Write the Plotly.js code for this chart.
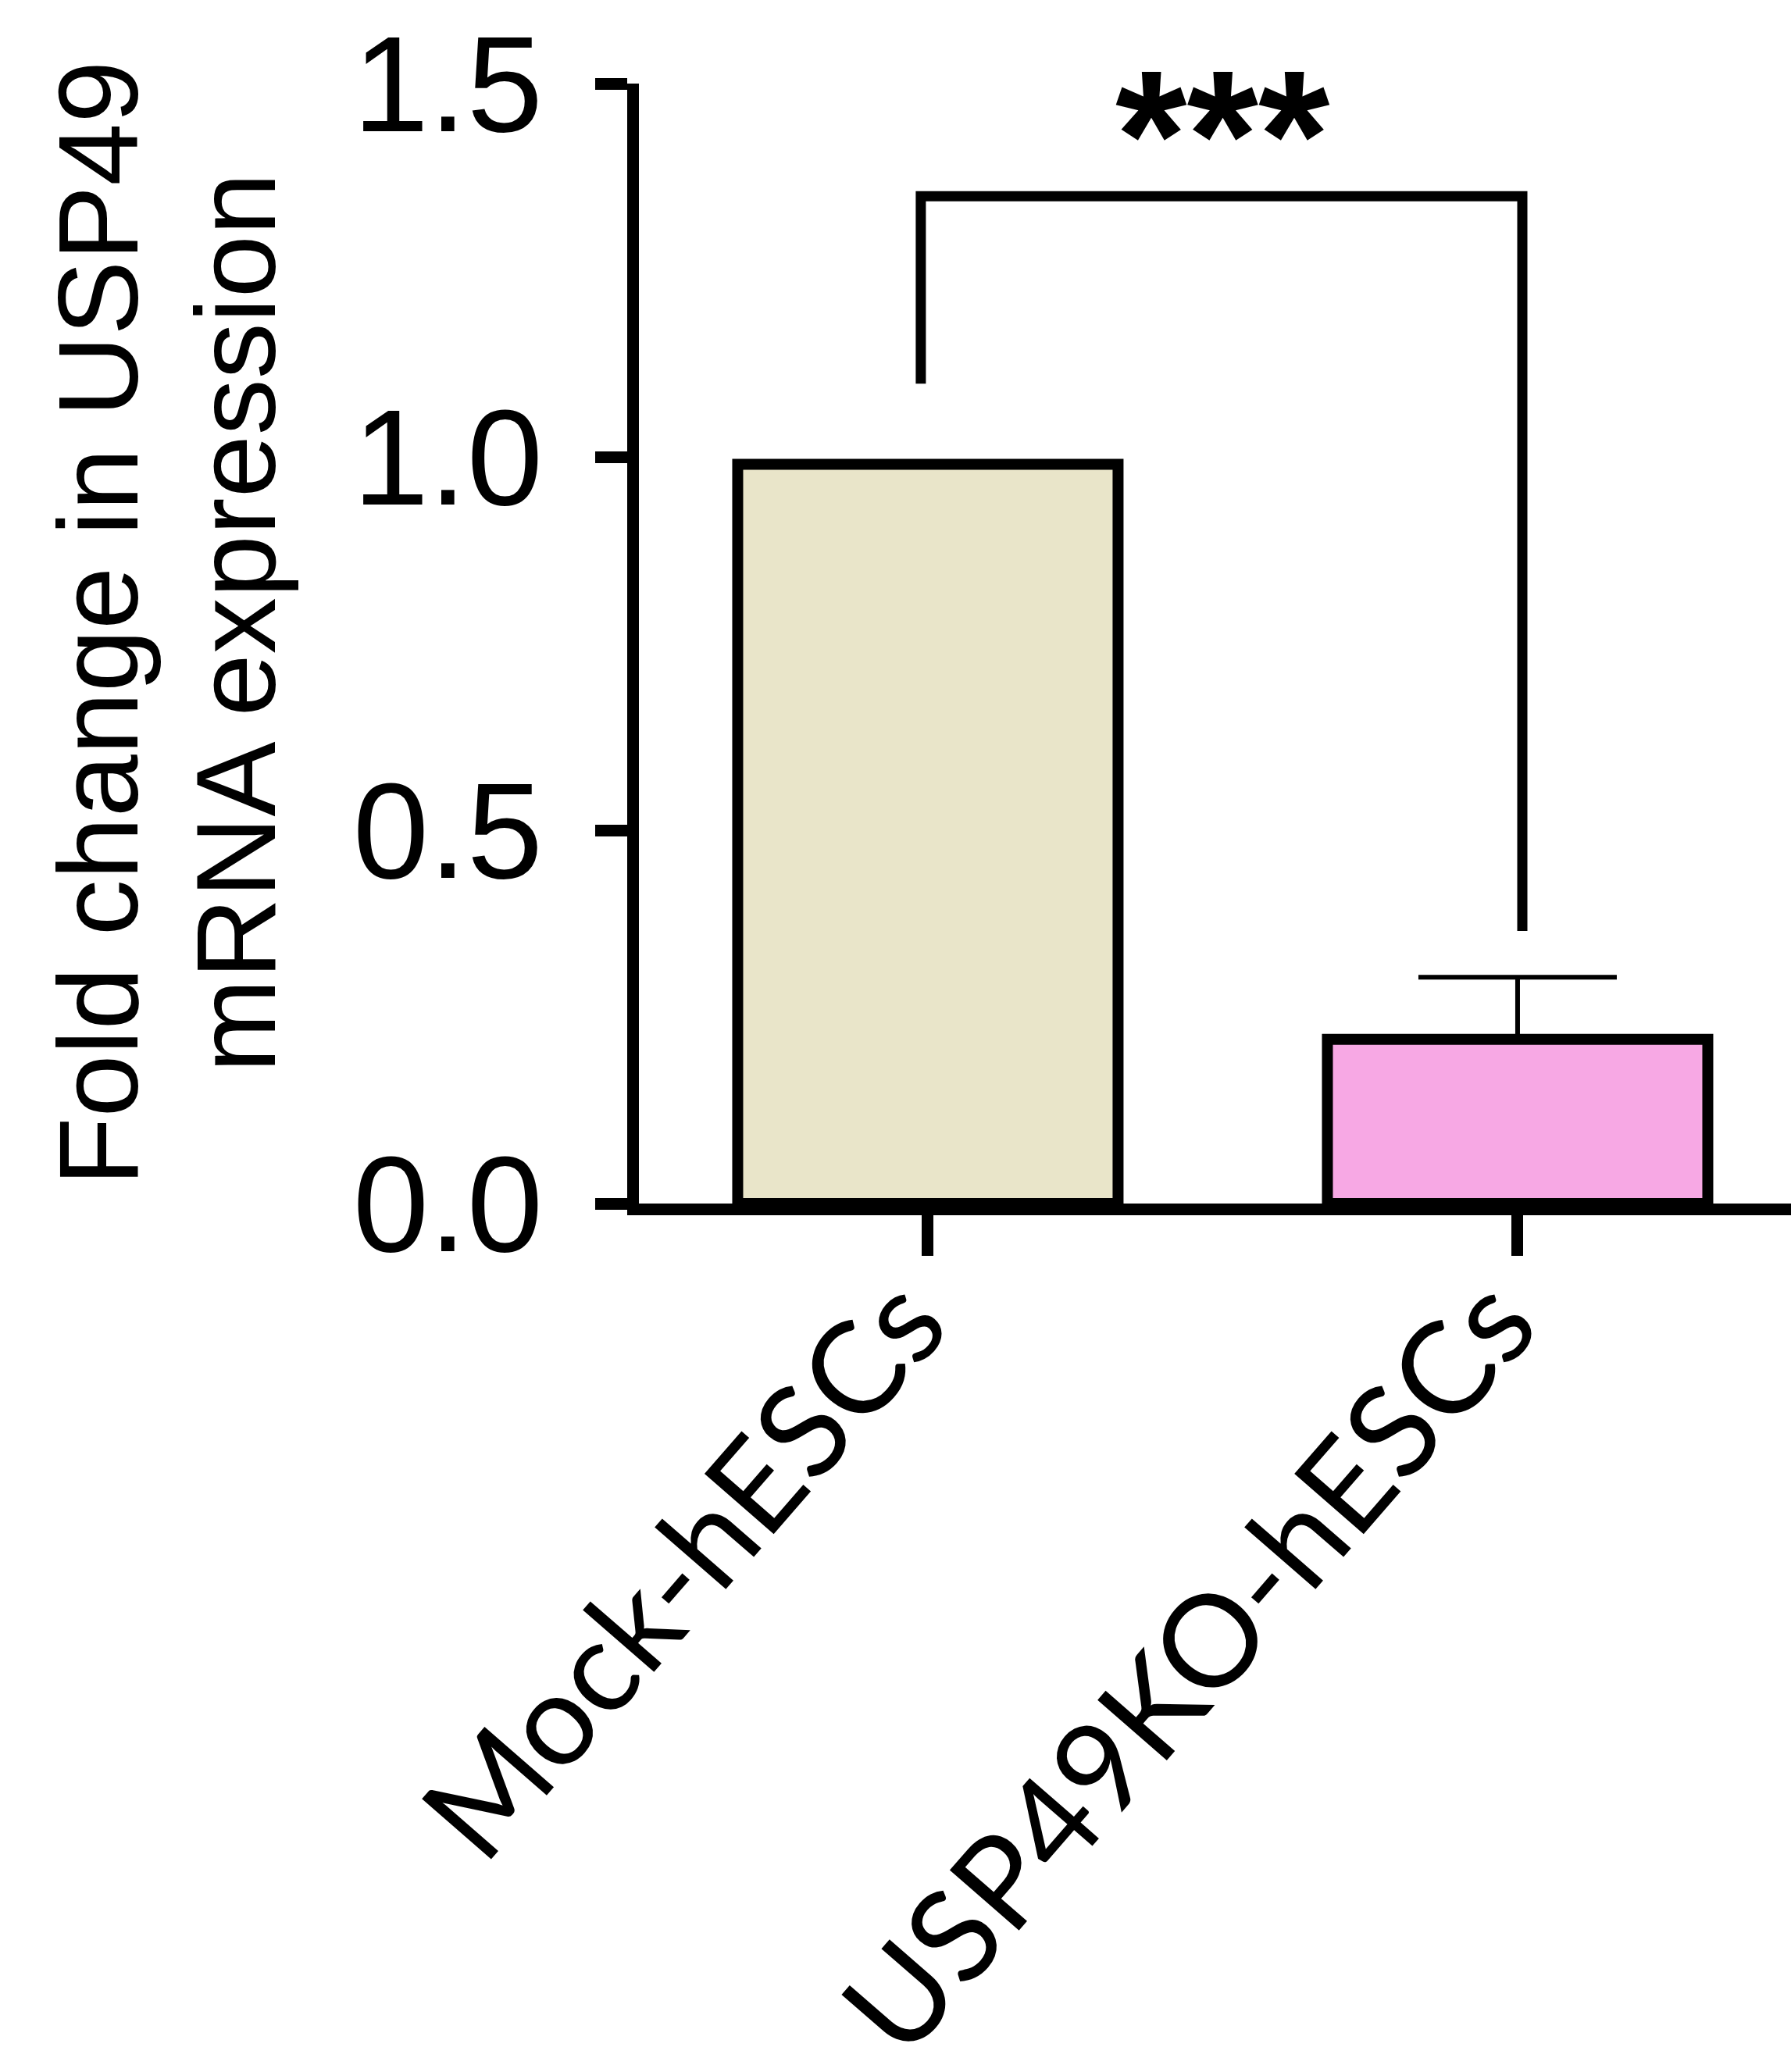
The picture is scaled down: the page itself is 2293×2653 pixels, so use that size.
<!DOCTYPE html>
<html>
<head>
<meta charset="utf-8">
<script src="https://cdn.plot.ly/plotly-3.0.1.min.js"></script>
<style>html,body{margin:0;padding:0;background:#fff;}#chart{width:2293px;height:2653px;}</style>
</head>
<body>
<div id="chart"></div>
<script>
// ---- data ----
const categories = ["Mock-hESCs", "USP49KO-hESCs"];
const foldChange = [0.99, 0.22];
const errorUpper = [0, 0.083];
const barColors = ["#E9E5C9", "#F7A8E4"];
const yTickVals = [0, 0.5, 1.0, 1.5];
const yTickText = ["0.0", "0.5", "1.0", "1.5"];
const yTitleLine1 = "Fold change in USP49";
const yTitleLine2 = "mRNA expression";
const sigLabel = "***";
const sigBracket = {left: 0, right: 1, leftBottom: 1.098, top: 1.349, rightBottom: 0.365};

const trace = {
  type: "bar",
  x: categories,
  y: foldChange,
  width: 0.645,
  marker: {color: barColors, line: {color: "#000", width: 14}},
  error_y: {type: "data", symmetric: false, array: errorUpper, arrayminus: [0, 0],
            color: "#000", thickness: 6, width: 127, visible: true},
  hoverinfo: "none"
};

const layout = {
  width: 2293, height: 2653,
  margin: {l: 818, r: 0, t: 107, b: 1112, pad: 0},
  paper_bgcolor: "#fff", plot_bgcolor: "#fff",
  showlegend: false,
  xaxis: {
    type: "category",
    range: [-0.490, 1.4636],
    showline: true, linecolor: "#000", linewidth: 15,
    ticks: "outside", ticklen: 52, tickwidth: 15, tickcolor: "#000",
    tickangle: -49,
    tickfont: {family: "Lato, 'Noto Sans', sans-serif", size: 164, color: "#000"},
    ticklabelstandoff: -76,
    ticklabelshift: -30,
    showgrid: false, zeroline: false, fixedrange: true
  },
  yaxis: {
    range: [0, 1.5],
    tickvals: yTickVals, ticktext: yTickText,
    showline: true, linecolor: "#000", linewidth: 15,
    ticks: "outside", ticklen: 41, tickwidth: 15, tickcolor: "#000",
    tickfont: {family: "'Liberation Sans', Arial, sans-serif", size: 175, color: "#000"},
    ticklabelstandoff: 32,
    showgrid: false, zeroline: false, fixedrange: true
  },
  shapes: [{
    type: "path", xref: "x", yref: "y",
    path: "M " + (sigBracket.left - 0.012) + " " + sigBracket.leftBottom +
          " L " + (sigBracket.left - 0.012) + " " + sigBracket.top +
          " L " + (sigBracket.right + 0.008) + " " + sigBracket.top +
          " L " + (sigBracket.right + 0.008) + " " + sigBracket.rightBottom,
    line: {color: "#000", width: 13}
  }],
  annotations: [
    {text: sigLabel, xref: "x", yref: "y", x: (sigBracket.left + sigBracket.right) / 2, y: 1.432,
     xanchor: "center", yanchor: "middle", showarrow: false,
     font: {family: "'Liberation Sans', Arial, sans-serif", size: 235, color: "#000", weight: "bold"}},
    {text: yTitleLine1, xref: "paper", yref: "paper", x: -818 / 1475, y: 0.5,
     xanchor: "left", yanchor: "middle", textangle: -90, showarrow: false,
     xshift: 43, yshift: 26,
     font: {family: "'Liberation Sans', Arial, sans-serif", size: 144, color: "#000"}},
    {text: yTitleLine2, xref: "paper", yref: "paper", x: -818 / 1475, y: 0.5,
     xanchor: "left", yanchor: "middle", textangle: -90, showarrow: false,
     xshift: 219, yshift: 26,
     font: {family: "'Liberation Sans', Arial, sans-serif", size: 144, color: "#000"}}
  ]
};

Plotly.newPlot("chart", [trace], layout, {displayModeBar: false, staticPlot: true});
</script>
</body>
</html>
